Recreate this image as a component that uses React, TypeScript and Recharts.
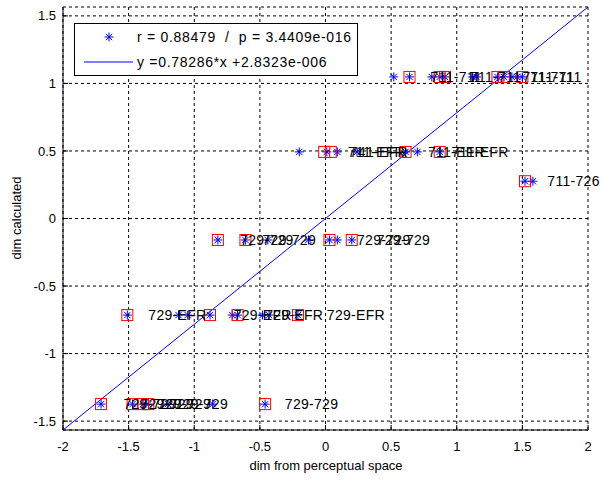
import React from 'react';
import {
  ScatterChart,
  Scatter,
  XAxis,
  YAxis,
  CartesianGrid,
  ReferenceLine
} from 'recharts';

// fit from the legend
const slope = 0.78286;
const intercept = 2.8323e-6;
const lineAt = (x: number) => slope * x + intercept;

const xTicks = [-2, -1.5, -1, -0.5, 0, 0.5, 1, 1.5, 2];
const yTicks = [-1.5, -1, -0.5, 0, 0.5, 1, 1.5];
const xDomain = [-2, 2];
const yDomain = [lineAt(-2), lineAt(2)];

const starPoints = [
  { x: 0.52, y: 1.048 }, { x: 0.64, y: 1.048 }, { x: 0.81, y: 1.048 }, { x: 0.87, y: 1.048 },
  { x: 0.91, y: 1.048 }, { x: 1.12, y: 1.048 }, { x: 1.15, y: 1.048 }, { x: 1.31, y: 1.048 },
  { x: 1.36, y: 1.048 }, { x: 1.42, y: 1.048 }, { x: 1.46, y: 1.048 }, { x: 1.5, y: 1.048 },
  { x: -0.2, y: 0.493 }, { x: 0.01, y: 0.493 }, { x: 0.09, y: 0.493 }, { x: 0.24, y: 0.493 },
  { x: 0.61, y: 0.493 }, { x: 0.7, y: 0.493 }, { x: 0.87, y: 0.493 },
  { x: 1.52, y: 0.276 }, { x: 1.58, y: 0.276 },
  { x: -0.82, y: -0.159 }, { x: -0.61, y: -0.159 }, { x: -0.44, y: -0.159 }, { x: -0.13, y: -0.159 },
  { x: 0.03, y: -0.159 }, { x: 0.09, y: -0.159 }, { x: 0.2, y: -0.159 },
  { x: -1.51, y: -0.715 }, { x: -1.12, y: -0.715 }, { x: -1.05, y: -0.715 }, { x: -0.88, y: -0.715 },
  { x: -0.71, y: -0.715 }, { x: -0.67, y: -0.715 }, { x: -0.48, y: -0.715 }, { x: -0.43, y: -0.715 },
  { x: -0.21, y: -0.715 },
  { x: -1.71, y: -1.374 }, { x: -1.47, y: -1.374 }, { x: -1.39, y: -1.374 }, { x: -1.35, y: -1.374 },
  { x: -1.2, y: -1.374 }, { x: -0.86, y: -1.374 }, { x: -0.46, y: -1.374 }
];

const squarePoints = [
  { x: 0.64, y: 1.048 }, { x: 0.87, y: 1.048 }, { x: 0.91, y: 1.048 }, { x: 1.31, y: 1.048 },
  { x: 1.36, y: 1.048 }, { x: 1.5, y: 1.048 },
  { x: -0.01, y: 0.493 }, { x: 0.04, y: 0.493 }, { x: 0.61, y: 0.493 }, { x: 0.87, y: 0.493 },
  { x: 1.52, y: 0.276 },
  { x: -0.82, y: -0.159 }, { x: -0.61, y: -0.159 }, { x: 0.03, y: -0.159 }, { x: 0.2, y: -0.159 },
  { x: -1.51, y: -0.715 }, { x: -0.88, y: -0.715 }, { x: -0.67, y: -0.715 }, { x: -0.21, y: -0.715 },
  { x: -1.71, y: -1.374 }, { x: -1.47, y: -1.374 }, { x: -1.39, y: -1.374 }, { x: -1.35, y: -1.374 },
  { x: -0.46, y: -1.374 }
];

const labelPoints = [
  { x: 0.8, y: 1.048, label: '711-711' }, { x: 1.1, y: 1.048, label: '711-711' },
  { x: 1.5, y: 1.048, label: '711-711' }, { x: 1.56, y: 1.048, label: '711-711' },
  { x: 0.17, y: 0.493, label: '711-EFR' }, { x: 0.185, y: 0.493, label: '741-EFR' },
  { x: 0.78, y: 0.493, label: '711-EFR' }, { x: 0.96, y: 0.493, label: '711-EFR' },
  { x: 1.69, y: 0.276, label: '711-726' },
  { x: -0.65, y: -0.159, label: '729-729' }, { x: -0.48, y: -0.159, label: '729-729' },
  { x: 0.24, y: -0.159, label: '729-729' }, { x: 0.39, y: -0.159, label: '729-729' },
  { x: -1.35, y: -0.715, label: '729-EFR' }, { x: -0.7, y: -0.715, label: '729-EFR' },
  { x: -0.46, y: -0.715, label: '729-EFR' }, { x: 0.01, y: -0.715, label: '729-EFR' },
  { x: -1.54, y: -1.374, label: '729-729' }, { x: -1.41, y: -1.374, label: '729-729' },
  { x: -1.28, y: -1.374, label: '729-729' }, { x: -1.15, y: -1.374, label: '729-729' },
  { x: -0.31, y: -1.374, label: '729-729' }
];

const FONT = '"Liberation Sans", Arial, Helvetica, sans-serif';
const BLUE = '#0000ff';
const RED = '#ff0000';

const StarMark = ({ cx, cy, r = 4.5 }: any) => {
  const d = r * 0.7071;
  return (
    <g stroke={BLUE} strokeWidth={1}>
      <line x1={cx - r} y1={cy} x2={cx + r} y2={cy} />
      <line x1={cx} y1={cy - r} x2={cx} y2={cy + r} />
      <line x1={cx - d} y1={cy - d} x2={cx + d} y2={cy + d} />
      <line x1={cx - d} y1={cy + d} x2={cx + d} y2={cy - d} />
    </g>
  );
};

const SquareMark = ({ cx, cy }: any) => (
  <rect x={cx - 5.5} y={cy - 5.5} width={11} height={11} fill="none" stroke={RED} strokeWidth={1} />
);

const LabelMark = ({ cx, cy, payload }: any) => (
  <text
    x={cx}
    y={cy}
    dominantBaseline="central"
    fontSize={14}
    letterSpacing={0.3}
    fontFamily={FONT}
    fill="#000"
  >
    {payload.label}
  </text>
);

const tickStyle = { fill: '#000', fontSize: 13, fontFamily: FONT };

const legendText = {
  dominantBaseline: 'central' as const,
  fontSize: 14,
  fontFamily: FONT,
  fill: '#000',
  letterSpacing: 0.7,
  style: { whiteSpace: 'pre' as const }
};

const Legend = () => (
  <div
    style={{
      position: 'absolute',
      left: 74,
      top: 23,
      width: 282,
      height: 51,
      border: '1px solid #000',
      background: '#fff'
    }}
  >
    <svg width={282} height={51}>
      <StarMark cx={34} cy={13} />
      <text x={62} y={13} {...legendText}>
        {'r = 0.88479  /  p = 3.4409e-016'}
      </text>
      <line x1={9} y1={38} x2={58} y2={38} stroke={BLUE} strokeWidth={1} />
      <text x={62} y={38} {...legendText}>
        {'y =0.78286*x +2.8323e-006'}
      </text>
    </svg>
  </div>
);

export default function App() {
  return (
    <div style={{ position: 'absolute', left: 0, top: 0, width: 604, height: 483, fontFamily: FONT, background: '#fff' }}>
      <ScatterChart width={604} height={483} margin={{ top: 7, right: 16, bottom: 0, left: 0 }}>
        <CartesianGrid stroke="#000" strokeDasharray="3 3" />
        <XAxis
          type="number"
          dataKey="x"
          domain={xDomain}
          ticks={xTicks}
          height={53}
          tickSize={-5}
          tickMargin={17}
          stroke="#000"
          tick={tickStyle}
          label={{
            content: () => (
              <text x={326} y={470} textAnchor="middle" fontSize={13} fontFamily={FONT} fill="#000">
                dim from perceptual space
              </text>
            )
          }}
        />
        <XAxis
          xAxisId="top"
          orientation="top"
          type="number"
          domain={xDomain}
          ticks={xTicks}
          allowDataOverflow
          height={0}
          tickSize={-5}
          stroke="#000"
          tick={false}
        />
        <YAxis
          type="number"
          dataKey="y"
          domain={yDomain}
          ticks={yTicks}
          width={63}
          tickSize={-5}
          tickMargin={12}
          stroke="#000"
          tick={tickStyle}
          label={{
            content: () => (
              <text
                x={16}
                y={218}
                textAnchor="middle"
                dominantBaseline="central"
                transform="rotate(-90 16 218)"
                fontSize={13}
                fontFamily={FONT}
                fill="#000"
              >
                dim calculated
              </text>
            )
          }}
        />
        <YAxis
          yAxisId="right"
          orientation="right"
          type="number"
          domain={yDomain}
          ticks={yTicks}
          allowDataOverflow
          width={0}
          tickSize={-5}
          stroke="#000"
          tick={false}
        />
        <ReferenceLine
          segment={[{ x: -2, y: lineAt(-2) }, { x: 2, y: lineAt(2) }]}
          stroke={BLUE}
          strokeWidth={1}
          ifOverflow="visible"
        />
        <Scatter data={starPoints} shape={StarMark} isAnimationActive={false} />
        <Scatter data={squarePoints} shape={SquareMark} isAnimationActive={false} />
        <Scatter data={labelPoints} shape={LabelMark} isAnimationActive={false} />
      </ScatterChart>
      <Legend />
    </div>
  );
}
